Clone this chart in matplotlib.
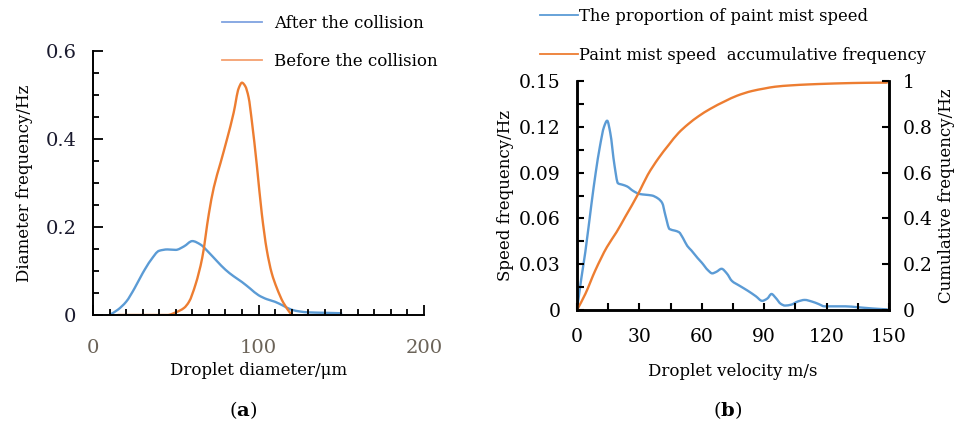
import matplotlib
matplotlib.use("Agg")
import numpy as np
import matplotlib.pyplot as plt
from matplotlib.ticker import MultipleLocator
from matplotlib.lines import Line2D
from matplotlib.path import Path
from matplotlib.patches import PathPatch

plt.rcParams['font.family'] = ['DejaVu Serif']
plt.rcParams['mathtext.fontset'] = 'dejavuserif'

# ---------------- data (a) ----------------
diam_after_x = [10, 15, 20, 25, 30, 35, 40, 45, 50, 55, 60, 65, 70, 75, 80, 85, 90, 95, 100, 105, 110, 115, 120, 125, 130, 140, 150]
diam_after_y = [0.0, 0.012, 0.03, 0.06, 0.095, 0.125, 0.146, 0.149, 0.148, 0.156, 0.168, 0.160, 0.142, 0.122, 0.103, 0.088, 0.075, 0.060, 0.045, 0.036, 0.030, 0.021, 0.012, 0.008, 0.006, 0.005, 0.004]
diam_before_x = [15, 25, 35, 45, 50, 55, 58, 62, 66, 70, 73, 77, 81, 85, 88, 90, 92, 94, 96, 99, 102, 105, 108, 111, 115, 120]
diam_before_y = [0.0, 0.0, 0.0, 0.0, 0.006, 0.016, 0.03, 0.07, 0.13, 0.23, 0.29, 0.345, 0.40, 0.46, 0.515, 0.528, 0.520, 0.495, 0.44, 0.34, 0.23, 0.148, 0.095, 0.062, 0.028, 0.0]
a_xticklabels = ['0', '100', '200']
a_yticklabels = ['0', '0.2', '0.4', '0.6']

# ---------------- data (b) ----------------
vel_x = [0, 2, 4, 7, 9, 11, 13, 14.5, 16, 18, 19.7, 22, 24, 27, 30, 33, 36, 39, 41, 42.5, 44.5, 47, 49, 51, 53, 55, 58, 60, 63, 65, 67, 69.5, 72, 74.5, 78, 82, 86, 89, 91.5, 93.5, 95.5, 98, 100, 103, 106, 109.5, 113, 116, 119, 124, 129, 135, 142, 149]
vel_y = [0.0, 0.02, 0.038, 0.07, 0.09, 0.107, 0.12, 0.124, 0.116, 0.095, 0.083, 0.082, 0.081, 0.078, 0.076, 0.0755, 0.075, 0.073, 0.070, 0.062, 0.053, 0.052, 0.051, 0.047, 0.042, 0.039, 0.034, 0.031, 0.026, 0.024, 0.025, 0.027, 0.024, 0.019, 0.016, 0.0127, 0.009, 0.006, 0.0075, 0.0105, 0.008, 0.004, 0.0029, 0.0035, 0.0055, 0.0066, 0.0055, 0.004, 0.0024, 0.0024, 0.0024, 0.0018, 0.001, 0.0004]
cum_x = [0, 4, 8.8, 14.4, 19, 23.2, 29.6, 34, 39.2, 44, 48.8, 53.5, 58.4, 64, 71.2, 77, 84, 90, 95.2, 103, 111.2, 120, 127.2, 138, 149]
cum_y = [0.0, 0.07, 0.173, 0.275, 0.34, 0.407, 0.51, 0.59, 0.663, 0.72, 0.773, 0.812, 0.846, 0.878, 0.912, 0.936, 0.956, 0.967, 0.975, 0.981, 0.985, 0.988, 0.990, 0.992, 0.993]
b_xticklabels = ['0', '30', '60', '90', '120', '150']
b_yticklabels = ['0', '0.03', '0.06', '0.09', '0.12', '0.15']
b_y2ticklabels = ['0', '0.2', '0.4', '0.6', '0.8', '1']

BLUE = '#5B9BD5'
ORANGE = '#ED7D31'


def smooth_line(ax, x, y, color, lw=1.7):
    """Draw a smooth (monotone cubic Bezier) curve through the data points."""
    x = np.asarray(x, float)
    y = np.asarray(y, float)
    h = np.diff(x)
    d = np.diff(y) / h
    n = len(x)
    m = np.zeros(n)
    m[0], m[-1] = d[0], d[-1]
    for k in range(1, n - 1):
        if d[k - 1] * d[k] <= 0:
            m[k] = 0.0
        else:
            w1 = 2 * h[k] + h[k - 1]
            w2 = h[k] + 2 * h[k - 1]
            m[k] = (w1 + w2) / (w1 / d[k - 1] + w2 / d[k])
    verts = [(x[0], y[0])]
    codes = [Path.MOVETO]
    for k in range(n - 1):
        verts += [(x[k] + h[k] / 3, y[k] + m[k] * h[k] / 3),
                  (x[k + 1] - h[k] / 3, y[k + 1] - m[k + 1] * h[k] / 3),
                  (x[k + 1], y[k + 1])]
        codes += [Path.CURVE4] * 3
    patch = PathPatch(Path(verts, codes), transform=ax.transData, fill=False,
                      edgecolor=color, lw=lw, capstyle='round', joinstyle='round')
    ax.add_patch(patch)


fig = plt.figure(figsize=(9.58, 4.28), dpi=100)

# ---------------- panel (a) ----------------
axa = fig.add_axes([93/958, 1-315/428, 331/958, 264/428])
smooth_line(axa, diam_after_x, diam_after_y, BLUE)
smooth_line(axa, diam_before_x, diam_before_y, ORANGE)
axa.set_xlim(0, 200)
axa.set_ylim(0, 0.6)
for s in ['top', 'right']:
    axa.spines[s].set_visible(False)
for s in ['left', 'bottom']:
    axa.spines[s].set_linewidth(1.4)
axa.set_xticks([0, 100, 200])
axa.set_xticklabels(a_xticklabels)
axa.xaxis.set_minor_locator(MultipleLocator(10))
axa.set_yticks([0, 0.2, 0.4, 0.6])
axa.set_yticklabels(a_yticklabels)
axa.yaxis.set_minor_locator(MultipleLocator(0.05))
axa.tick_params(axis='both', which='major', direction='in', length=7, width=1.3)
axa.tick_params(axis='both', which='minor', direction='in', length=4.5, width=1.3)
axa.tick_params(axis='x', which='major', labelsize=14, pad=17, labelcolor='#6b6358')
axa.tick_params(axis='y', which='major', labelsize=14, pad=12, labelcolor='#1a1a2e')
axa.set_xlabel('Droplet diameter/μm', fontsize=12, labelpad=4)
axa.set_ylabel('Diameter frequency/Hz', fontsize=12, labelpad=9)
ha = [Line2D([], [], color='#7fa3e0', lw=1.3), Line2D([], [], color='#f4a070', lw=1.3)]
fig.legend(ha, ['After the collision', 'Before the collision'], loc='upper left',
           bbox_to_anchor=(210/958, 1 - 3/428), frameon=False, fontsize=12,
           handlelength=2.4, handletextpad=0.75, labelspacing=1.3, borderpad=0.2)
fig.text(243/958, 1-410/428, r'($\mathbf{a}$)', ha='center', va='center', fontsize=14)

# ---------------- panel (b) ----------------
axb = fig.add_axes([577/958, 1-310/428, 312/958, 229/428])
smooth_line(axb, vel_x, vel_y, BLUE)
axb.set_xlim(0, 150)
axb.set_ylim(0, 0.15)
axb.spines['top'].set_visible(False)
for s in ['left', 'bottom', 'right']:
    axb.spines[s].set_linewidth(1.8)
axb.set_xticks([0, 30, 60, 90, 120, 150])
axb.set_xticklabels(b_xticklabels)
axb.xaxis.set_minor_locator(MultipleLocator(15))
axb.set_yticks([0, 0.03, 0.06, 0.09, 0.12, 0.15])
axb.set_yticklabels(b_yticklabels)
axb.yaxis.set_minor_locator(MultipleLocator(0.015))
axb.tick_params(axis='both', which='both', direction='in', length=5, width=1.5, labelsize=13.5)
axb.tick_params(axis='x', which='major', pad=13)
axb.tick_params(axis='y', which='major', pad=12)
axb.set_xlabel('Droplet velocity m/s', fontsize=12, labelpad=12)
axb.set_ylabel('Speed frequency/Hz', fontsize=12, labelpad=3)

axb2 = axb.twinx()
smooth_line(axb2, cum_x, cum_y, ORANGE)
axb2.set_ylim(0, 1)
axb2.spines['top'].set_visible(False)
for s in ['left', 'bottom', 'right']:
    axb2.spines[s].set_linewidth(1.8)
axb2.set_yticks([0, 0.2, 0.4, 0.6, 0.8, 1.0])
axb2.set_yticklabels(b_y2ticklabels)
axb2.tick_params(axis='y', which='both', direction='in', length=5, width=1.5, labelsize=13.5, pad=10)
axb2.set_ylabel('Cumulative frequency/Hz', fontsize=12, labelpad=4)
hb = [Line2D([], [], color=BLUE, lw=1.3), Line2D([], [], color=ORANGE, lw=1.3)]
fig.legend(hb, ['The proportion of paint mist speed', 'Paint mist speed  accumulative frequency'],
           loc='upper left', bbox_to_anchor=(532/958, 1.0), frameon=False, fontsize=11.8,
           handlelength=2.3, handletextpad=0.05, labelspacing=1.3, borderpad=0.0)
fig.text(728/958, 1-410/428, r'($\mathbf{b}$)', ha='center', va='center', fontsize=14)

fig.savefig('out.png', dpi=100)
